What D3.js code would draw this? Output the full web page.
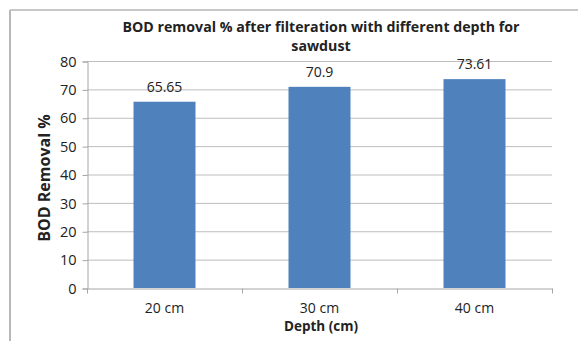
<!DOCTYPE html>
<html lang="en">
  <head>
    <meta charset="UTF-8" />
    <title>BOD removal</title>
    <script src="https://d3js.org/d3.v7.min.js"></script>
    <style>
      body { margin: 0; background: #fff; }
      text { font-family: 'Open Sans', sans-serif; fill: #222; }
    </style>
  </head>

  <body>
    <div id="graph"></div>
    <script>
      const categories = ['20 cm', '30 cm', '40 cm']
      const values = [65.65, 70.9, 73.61]
      const yTicks = [0, 10, 20, 30, 40, 50, 60, 70, 80]

      const W = 578, H = 341
      const mLeft = 87, mRight = 552, mTop = 61, mBottom = 288

      const svg = d3.select('#graph').append('svg').attr('width', W).attr('height', H)

      // frame (only top and left edges visible)
      svg.append('line').attr('x1', 10).attr('x2', W).attr('y1', 10).attr('y2', 10)
        .attr('stroke', '#c8c8c8').attr('stroke-width', 2)
      svg.append('line').attr('x1', 10).attr('x2', 10).attr('y1', 10).attr('y2', H)
        .attr('stroke', '#b8b8b8').attr('stroke-width', 2)

      const x = d3.scaleBand().domain(categories).range([mLeft, mRight]).paddingInner(0.6).paddingOuter(0.3)
      const xb = d3.scaleBand().domain(categories).range([mLeft, mRight])
      const y = d3.scaleLinear().domain([0, 80]).range([mBottom, mTop])

      // gridlines
      svg.append('g')
        .selectAll('line')
        .data(yTicks.slice(1))
        .join('line')
        .attr('x1', mLeft).attr('x2', mRight)
        .attr('y1', (d) => y(d) + 0.5).attr('y2', (d) => y(d) + 0.5)
        .attr('stroke', '#bdbdbd')

      // y axis
      const yAxis = d3.axisLeft(y).tickValues(yTicks).tickSize(5).tickPadding(6)
      const gy = svg.append('g').attr('transform', `translate(${mLeft + 0.5},0.5)`).call(yAxis)
      gy.select('.domain').attr('stroke', '#a6a6a6')
      gy.selectAll('.tick line').attr('stroke', '#a6a6a6')
      gy.selectAll('.tick text').attr('font-size', 14.5).attr('fill', '#222')

      // bars
      svg.append('g')
        .selectAll('rect')
        .data(values)
        .join('rect')
        .attr('x', (_, i) => x(categories[i]))
        .attr('y', (d) => y(d))
        .attr('width', x.bandwidth())
        .attr('height', (d) => mBottom - y(d))
        .attr('fill', '#4f81bd')

      // value labels
      svg.append('g')
        .selectAll('text')
        .data(values)
        .join('text')
        .attr('x', (_, i) => x(categories[i]) + x.bandwidth() / 2)
        .attr('y', (d) => y(d) - 10)
        .attr('text-anchor', 'middle')
        .attr('font-size', 14)
        .text((d) => d.toString())

      // x axis
      const xAxis = d3.axisBottom(xb).tickSize(0).tickPadding(15)
      const gx = svg.append('g').attr('transform', `translate(0,${mBottom + 0.5})`).call(xAxis)
      gx.select('.domain').attr('stroke', '#a6a6a6')
      gx.selectAll('.tick text').attr('font-size', 14).attr('fill', '#222')
      // tick marks at category boundaries
      gx.append('g')
        .selectAll('line')
        .data([mLeft].concat(categories.map((c) => xb(c) + xb.bandwidth())))
        .join('line')
        .attr('x1', (d) => Math.round(d) + 0.5).attr('x2', (d) => Math.round(d) + 0.5)
        .attr('y1', 0).attr('y2', 5)
        .attr('stroke', '#a6a6a6')

      // titles
      svg.append('text')
        .attr('x', 321).attr('y', 32)
        .attr('text-anchor', 'middle').attr('font-weight', 'bold').attr('font-size', 14.2)
        .text('BOD removal % after filteration with different depth for')
      svg.append('text')
        .attr('x', 321).attr('y', 51)
        .attr('text-anchor', 'middle').attr('font-weight', 'bold').attr('font-size', 14.2)
        .text('sawdust')
      svg.append('text')
        .attr('x', 321).attr('y', 331)
        .attr('text-anchor', 'middle').attr('font-weight', 'bold').attr('font-size', 13.5)
        .text('Depth (cm)')
      svg.append('text')
        .attr('transform', 'translate(50,178) rotate(-90)')
        .attr('text-anchor', 'middle').attr('font-weight', 'bold').attr('font-size', 16)
        .text('BOD Removal %')
    </script>
  </body>
</html>
